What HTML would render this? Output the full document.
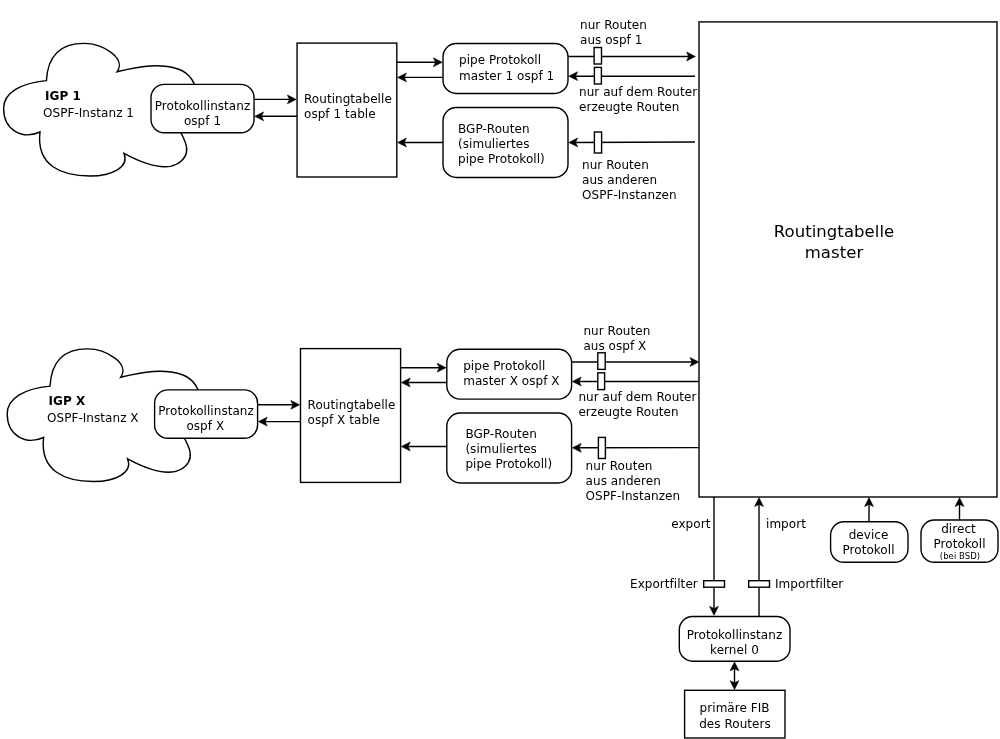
<!DOCTYPE html>
<html lang="de">
<head>
<meta charset="utf-8">
<title>Routingtabelle master</title>
<style>
html,body{margin:0;padding:0;background:#fff;}
body{width:1000px;height:739px;overflow:hidden;}
svg{display:block;will-change:transform;}
svg text{font-family:"DejaVu Sans","Liberation Sans",sans-serif;font-size:12px;letter-spacing:0.05px;fill:#000;stroke:none;}
svg rect,svg path,svg line{fill:#fff;stroke:#000;stroke-width:1.4;}
svg line{fill:none;}
svg .h{fill:#000;stroke:#000;stroke-width:0.6;stroke-linejoin:miter;}
</style>
</head>
<body>
<svg width="1000" height="739" viewBox="0 0 1000 739">
<rect x="699" y="21.9" width="298" height="475.1"/>
<text x="834" y="237" text-anchor="middle" style="font-size:16.5px">Routingtabelle</text><text x="834" y="258" text-anchor="middle" style="font-size:16.5px">master</text>
<path transform="translate(0,0)" d="M 46.4 80.6 C 48 52 64 43.4 84 43.4 C 102 43.4 127 58 117 71.8 C 140 66 160 63 178 69 C 190 73 197 84 196 96 C 195 108 186 118 176 124 C 184 138 195 154 177 164 C 162 172 140 162 124 153.4 C 129.5 167 112 176 90 176 C 62 176 36 166 40 132 C 22 140 4 130 3.6 109 C 3 92 22 83 46.4 80.6 Z"/>
<text x="45" y="100" font-weight="bold">IGP 1</text>
<text x="43" y="117">OSPF-Instanz 1</text>
<rect x="151" y="84.4" width="103.05" height="48.4" rx="13.3" ry="13.3"/>
<text x="202.5" y="110" text-anchor="middle">Protokollinstanz</text><text x="202.5" y="125" text-anchor="middle">ospf 1</text>
<line x1="254" y1="99.4" x2="292.2" y2="99.4"/><polygon class="h" points="296.2,99.4 287.4,103.8 289.5,99.4 287.4,95"/>
<line x1="297" y1="116.3" x2="258.8" y2="116.3"/><polygon class="h" points="254.8,116.3 263.6,111.9 261.5,116.3 263.6,120.7"/>
<rect x="297.05" y="43.1" width="99.75" height="133.9"/>
<text x="304" y="103">Routingtabelle</text><text x="304" y="118">ospf 1 table</text>
<rect x="443" y="43.5" width="125" height="50" rx="13.3" ry="13.3"/>
<text x="459" y="64">pipe Protokoll</text><text x="459" y="80">master 1 ospf 1</text>
<rect x="443" y="107.5" width="125" height="70" rx="13.3" ry="13.3"/>
<text x="458" y="133">BGP-Routen</text><text x="458" y="148">(simuliertes</text><text x="458" y="163">pipe Protokoll)</text>
<line x1="396.8" y1="62.27" x2="438.2" y2="62.27"/><polygon class="h" points="442.2,62.27 433.4,66.67 435.5,62.27 433.4,57.87"/>
<line x1="443" y1="77.4" x2="401.6" y2="77.4"/><polygon class="h" points="397.6,77.4 406.4,73 404.3,77.4 406.4,81.8"/>
<line x1="443" y1="142.5" x2="401.6" y2="142.5"/><polygon class="h" points="397.6,142.5 406.4,138.1 404.3,142.5 406.4,146.9"/>
<line x1="568" y1="56.5" x2="691.4" y2="56.5"/><polygon class="h" points="695.4,56.5 686.6,60.9 688.7,56.5 686.6,52.1"/>
<line x1="695" y1="76.2" x2="572.8" y2="76.2"/><polygon class="h" points="568.8,76.2 577.6,71.8 575.5,76.2 577.6,80.6"/>
<line x1="695" y1="142" x2="572.8" y2="142.48"/><polygon class="h" points="568.8,142.5 577.58,138.06 575.5,142.47 577.62,146.86"/>
<rect x="594.1" y="47.5" width="7.4" height="16.5"/>
<rect x="594.4" y="67.4" width="7" height="16.6"/>
<rect x="594.4" y="132" width="7.2" height="21"/>
<text x="580" y="29">nur Routen</text><text x="580" y="44">aus ospf 1</text>
<text x="579" y="96">nur auf dem Router</text><text x="579" y="111">erzeugte Routen</text>
<text x="582" y="169">nur Routen</text><text x="582" y="184">aus anderen</text><text x="582" y="199">OSPF-Instanzen</text>
<path transform="translate(3.6,305.5)" d="M 46.4 80.6 C 48 52 64 43.4 84 43.4 C 102 43.4 127 58 117 71.8 C 140 66 160 63 178 69 C 190 73 197 84 196 96 C 195 108 186 118 176 124 C 184 138 195 154 177 164 C 162 172 140 162 124 153.4 C 129.5 167 112 176 90 176 C 62 176 36 166 40 132 C 22 140 4 130 3.6 109 C 3 92 22 83 46.4 80.6 Z"/>
<text x="48.6" y="405" font-weight="bold">IGP X</text>
<text x="47" y="422">OSPF-Instanz X</text>
<rect x="154.6" y="389.9" width="103" height="48.4" rx="13.3" ry="13.3"/>
<text x="206.1" y="415" text-anchor="middle">Protokollinstanz</text><text x="205.3" y="430" text-anchor="middle">ospf X</text>
<line x1="257.6" y1="404.8" x2="295.6" y2="404.8"/><polygon class="h" points="299.6,404.8 290.8,409.2 292.9,404.8 290.8,400.4"/>
<line x1="300.4" y1="421.6" x2="262.4" y2="421.6"/><polygon class="h" points="258.4,421.6 267.2,417.2 265.1,421.6 267.2,426"/>
<rect x="300.5" y="348.6" width="100.1" height="133.8"/>
<text x="307.6" y="409">Routingtabelle</text><text x="307.6" y="424">ospf X table</text>
<rect x="446.8" y="349.3" width="124.8" height="49.8" rx="13.3" ry="13.3"/>
<text x="463.2" y="370">pipe Protokoll</text><text x="463.2" y="385">master X ospf X</text>
<rect x="446.8" y="413" width="124.8" height="70" rx="13.3" ry="13.3"/>
<text x="465.4" y="438">BGP-Routen</text><text x="465.4" y="453">(simuliertes</text><text x="465.4" y="468">pipe Protokoll)</text>
<line x1="400.6" y1="367.7" x2="442" y2="367.7"/><polygon class="h" points="446,367.7 437.2,372.1 439.3,367.7 437.2,363.3"/>
<line x1="446.8" y1="382.5" x2="405.4" y2="382.5"/><polygon class="h" points="401.4,382.5 410.2,378.1 408.1,382.5 410.2,386.9"/>
<line x1="446.8" y1="446.5" x2="405.4" y2="446.5"/><polygon class="h" points="401.4,446.5 410.2,442.1 408.1,446.5 410.2,450.9"/>
<line x1="571.6" y1="362" x2="694.8" y2="362"/><polygon class="h" points="698.8,362 690,366.4 692.1,362 690,357.6"/>
<line x1="699" y1="381.5" x2="576.4" y2="381.5"/><polygon class="h" points="572.4,381.5 581.2,377.1 579.1,381.5 581.2,385.9"/>
<line x1="699" y1="447.6" x2="576.4" y2="447.79"/><polygon class="h" points="572.4,447.8 581.19,443.38 579.1,447.79 581.21,452.18"/>
<rect x="597.8" y="352.8" width="7.4" height="16.6"/>
<rect x="597.8" y="372.8" width="6.8" height="16.8"/>
<rect x="598.4" y="437.4" width="7" height="21.1"/>
<text x="583.4" y="335">nur Routen</text><text x="583.4" y="350">aus ospf X</text>
<text x="578.4" y="401">nur auf dem Router</text><text x="578.4" y="416">erzeugte Routen</text>
<text x="585.6" y="470">nur Routen</text><text x="585.6" y="485">aus anderen</text><text x="585.6" y="500">OSPF-Instanzen</text>
<line x1="714" y1="497" x2="714" y2="611.2"/><polygon class="h" points="714,615.2 709.6,606.4 714,608.5 718.4,606.4"/>
<line x1="759" y1="616" x2="759" y2="501.7"/><polygon class="h" points="759,497.7 763.4,506.5 759,504.4 754.6,506.5"/>
<rect x="703.7" y="580.7" width="20.8" height="6.5"/>
<rect x="748.7" y="580.7" width="20.8" height="6.5"/>
<text x="697.8" y="588" text-anchor="end">Exportfilter</text>
<text x="775" y="588">Importfilter</text>
<text x="710.4" y="528" text-anchor="end">export</text>
<text x="766" y="528">import</text>
<rect x="679.3" y="616.5" width="110.7" height="44.7" rx="13.3" ry="13.3"/>
<text x="734.5" y="639" text-anchor="middle">Protokollinstanz</text><text x="734.5" y="654" text-anchor="middle">kernel 0</text>
<line x1="734.5" y1="666" x2="734.5" y2="685.5"/><polygon class="h" points="734.5,689.5 730.1,680.7 734.5,682.8 738.9,680.7"/><polygon class="h" points="734.5,662 738.9,670.8 734.5,668.7 730.1,670.8"/>
<rect x="684.6" y="690.3" width="100.4" height="47.7"/>
<text x="699.6" y="712">primäre FIB</text><text x="699.2" y="728">des Routers</text>
<rect x="830.6" y="521.8" width="77.4" height="40.5" rx="13.3" ry="13.3"/>
<text x="868.5" y="539" text-anchor="middle">device</text><text x="868.5" y="554" text-anchor="middle">Protokoll</text>
<line x1="869" y1="521.8" x2="869" y2="501.7"/><polygon class="h" points="869,497.7 873.4,506.5 869,504.4 864.6,506.5"/>
<rect x="921" y="520" width="77" height="42.3" rx="13.3" ry="13.3"/>
<text x="958.5" y="533" text-anchor="middle">direct</text><text x="959.5" y="548" text-anchor="middle">Protokoll</text>
<text x="960" y="559" text-anchor="middle" style="font-size:8.5px">(bei BSD)</text>
<line x1="959.5" y1="520" x2="959.5" y2="501.7"/><polygon class="h" points="959.5,497.7 963.9,506.5 959.5,504.4 955.1,506.5"/>
</svg>
</body>
</html>
